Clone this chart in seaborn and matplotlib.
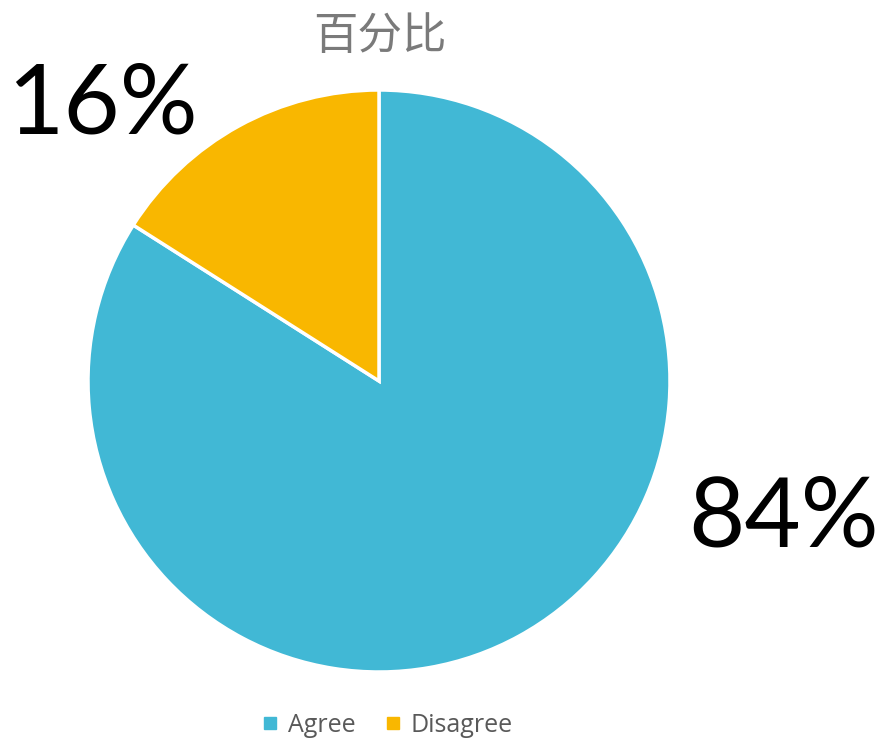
import numpy as np
import matplotlib
matplotlib.use("Agg")
import matplotlib.pyplot as plt
from matplotlib.lines import Line2D
import seaborn as sns

# Data
categories = ["Agree", "Disagree"]
values = [84, 16]
title_text = "百分比"

sns.set_style("white")
plt.rcParams['font.family'] = ['Noto Sans CJK SC', 'DejaVu Sans']
colors = sns.color_palette(["#41B8D5", "#F9B700"])

fig = plt.figure(figsize=(8.83, 7.42), dpi=100)
# pie centred at (379, 381) px with radius 291 px
ax = fig.add_axes([88 / 883, 70 / 742, 582 / 883, 582 / 742])

wedges, _ = ax.pie(values, colors=colors, startangle=90, counterclock=False,
                   radius=1.0, wedgeprops=dict(edgecolor="white", linewidth=2.5))
ax.set_xlim(-1, 1)
ax.set_ylim(-1, 1)
ax.set_aspect("equal")
ax.axis("off")

# percentage labels (placed like the original best-fit layout)
total = sum(values)
label_pos = [(1.39, -0.475), (-0.95, 0.945)]
for v, (lx, ly) in zip(values, label_pos):
    ax.text(lx, ly, f"{round(v / total * 100)}%", ha="center", va="center",
            fontsize=70, color="black", family=["Lato", "DejaVu Sans"],
            clip_on=False)

fig.text(380 / 883, 1 - 36 / 742, title_text, ha="center", va="center",
         fontsize=32, color="#7a7a7a", fontweight="light")

handles = [Line2D([0], [0], marker="s", linestyle="none", markersize=8,
                  markerfacecolor=c, markeredgecolor=c) for c in colors]
fig.legend(handles, categories, loc="center", bbox_to_anchor=(385 / 883, 1 - 725 / 742),
           ncol=2, frameon=False, handletextpad=0.2, columnspacing=1.0,
           handlelength=1.0,
           prop={"family": ["Open Sans", "DejaVu Sans"], "size": 18},
           labelcolor="#595959")

fig.savefig("out.png", dpi=100)
